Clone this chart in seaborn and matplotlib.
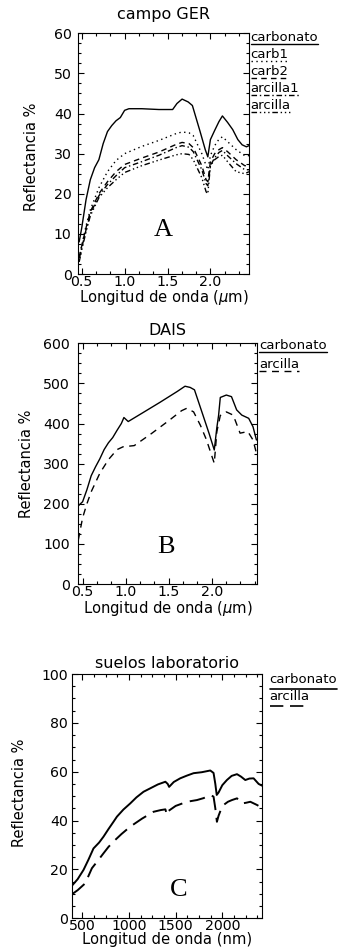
import matplotlib
matplotlib.use('Agg')
import pandas as pd
import matplotlib.pyplot as plt
import seaborn as sns
from matplotlib.ticker import MultipleLocator, AutoMinorLocator, FixedLocator

sns.set_style('ticks')
plt.rcParams['font.family'] = ['DejaVu Sans']
plt.rcParams['mathtext.fontset'] = 'dejavusans'
plt.rcParams['text.color'] = 'black'
plt.rcParams['axes.labelcolor'] = 'black'

# ---- A: campo GER (um) ----
ger_x_carb = [0.47, 0.50, 0.55, 0.60, 0.65, 0.70, 0.75, 0.80, 0.85, 0.90, 0.95, 1.00, 1.05, 1.20, 1.40,
              1.56, 1.61, 1.67, 1.74, 1.79, 1.88, 1.94, 1.97, 2.00, 2.05, 2.10, 2.14, 2.20, 2.26, 2.32,
              2.37, 2.42, 2.45]
ger_carbonato = [8.0, 11.5, 18.5, 23.5, 26.5, 28.5, 32.5, 35.5, 37.0, 38.2, 39.0, 40.8, 41.2, 41.2, 41.0,
                 41.0, 42.5, 43.6, 42.9, 42.0, 35.5, 31.0, 29.2, 33.5, 35.8, 38.0, 39.4, 37.8, 36.0, 33.5,
                 32.2, 31.7, 32.0]
ger_x = [0.47, 0.50, 0.55, 0.60, 0.70, 0.80, 0.90, 1.00, 1.20, 1.40, 1.60, 1.67, 1.75, 1.80, 1.90,
         1.95, 1.97, 2.00, 2.05, 2.10, 2.14, 2.20, 2.30, 2.40, 2.45]
ger_carb1 = [4.0, 7.0, 12.0, 16.0, 21.5, 25.5, 28.3, 30.0, 31.8, 33.3, 35.0, 35.4, 35.2, 34.5, 30.0,
             27.0, 26.0, 29.5, 32.0, 33.6, 34.2, 33.0, 31.0, 29.5, 29.5]
ger_carb2 = [4.0, 7.0, 11.5, 15.5, 20.0, 23.0, 25.5, 27.3, 28.9, 30.4, 32.3, 32.8, 32.5, 31.5, 27.0,
             23.5, 23.0, 28.0, 30.0, 31.0, 31.5, 30.5, 28.5, 27.0, 27.0]
ger_arcilla1 = [4.0, 6.5, 11.0, 15.0, 19.5, 22.3, 24.5, 26.5, 28.0, 29.6, 31.5, 32.0, 31.6, 30.5, 26.0,
                22.5, 22.0, 27.0, 29.0, 30.3, 30.8, 29.5, 27.5, 26.0, 26.0]
ger_arcilla = [3.0, 6.0, 10.5, 14.5, 19.0, 21.5, 23.5, 25.3, 27.0, 28.4, 29.7, 30.0, 29.8, 28.5, 24.0,
               20.5, 20.0, 27.0, 28.5, 29.3, 29.6, 28.0, 25.5, 25.0, 25.5]

# ---- B: DAIS (um) ----
dais_x_carb = [0.45, 0.50, 0.55, 0.60, 0.65, 0.70, 0.75, 0.80, 0.85, 0.90, 0.95, 0.98, 1.03, 1.20, 1.40,
               1.60, 1.69, 1.75, 1.80, 1.90, 1.97, 2.03, 2.06, 2.08, 2.10, 2.17, 2.23, 2.29, 2.35, 2.43,
               2.48, 2.52]
dais_carbonato = [195, 205, 235, 270, 292, 312, 335, 352, 365, 383, 400, 415, 405, 427, 453,
                  480, 493, 490, 484, 420, 375, 334, 390, 420, 465, 471, 467, 434, 421, 413,
                  392, 359]
dais_x_arc = [0.45, 0.50, 0.55, 0.60, 0.70, 0.80, 0.90, 0.97, 1.10, 1.30, 1.50, 1.65, 1.71, 1.79, 1.87,
              1.94, 2.00, 2.03, 2.06, 2.10, 2.17, 2.25, 2.33, 2.42, 2.48, 2.52]
dais_arcilla = [110, 165, 200, 230, 276, 310, 335, 342, 345, 375, 407, 432, 438, 429, 395,
                359, 320, 301, 380, 420, 429, 421, 376, 380, 359, 326]

# ---- C: suelos laboratorio (nm) ----
lab_x_carb = [395, 450, 513, 566, 620, 680, 727, 780, 834, 871, 940, 1013, 1080, 1156, 1228, 1310,
              1390, 1415, 1430, 1480, 1549, 1620, 1692, 1780, 1871, 1906, 1925, 1940, 1960, 2000,
              2049, 2100, 2157, 2200, 2246, 2290, 2335, 2389, 2425]
lab_carbonato = [13.6, 16.0, 19.8, 24.0, 28.6, 31.0, 33.4, 36.5, 39.5, 41.6, 44.5, 47.0, 49.5, 51.8,
                 53.2, 54.8, 55.9, 55.0, 53.8, 55.8, 57.3, 58.4, 59.4, 59.8, 60.5, 59.5, 55.0, 50.5,
                 51.5, 54.5, 56.6, 58.3, 59.0, 58.0, 56.6, 57.2, 57.3, 55.0, 54.3]
lab_x_arc = [395, 450, 531, 603, 665, 727, 780, 834, 920, 1013, 1140, 1263, 1340, 1390, 1407, 1425,
             1500, 1621, 1728, 1800, 1871, 1906, 1925, 1942, 1960, 2000, 2060, 2103, 2157, 2210,
             2255, 2300, 2371, 2425]
lab_arcilla = [10.0, 11.5, 14.3, 20.5, 23.5, 26.6, 29.2, 31.4, 34.5, 37.5, 40.8, 43.6, 44.3, 44.6,
               42.3, 44.0, 46.0, 47.7, 48.4, 49.2, 50.5, 49.8, 45.0, 39.5, 42.0, 46.0, 47.7, 48.4,
               49.1, 47.0, 47.3, 47.7, 46.4, 45.2]

um_ticks = [0.5, 1.0, 1.5, 2.0]
nm_ticks = [500, 1000, 1500, 2000]

W, H = 343, 949
fig = plt.figure(figsize=(W / 100, H / 100), dpi=100)


def px_axes(l, t, r, b):
    return fig.add_axes([l / W, 1 - b / H, (r - l) / W, (b - t) / H])


axA = px_axes(78.3, 33.3, 249, 274)
axB = px_axes(78.3, 343.3, 256.7, 584)
axC = px_axes(72.3, 674, 262, 918.3)

DOT = (0, (1, 2.5))
DASH = (0, (4, 3))
DASHDOT = (0, (4, 2, 1, 2))
DASH3DOT = (0, (4, 2, 1, 2, 1, 2, 1, 2))

# A
for xs, ys, ls in [(ger_x_carb, ger_carbonato, '-'), (ger_x, ger_carb1, DOT), (ger_x, ger_carb2, DASH),
                   (ger_x, ger_arcilla1, DASHDOT), (ger_x, ger_arcilla, DASH3DOT)]:
    sns.lineplot(x=xs, y=ys, ax=axA, color='black', linewidth=1.0, linestyle=ls, estimator=None)
# B
sns.lineplot(x=dais_x_carb, y=dais_carbonato, ax=axB, color='black', linewidth=1.0, estimator=None)
sns.lineplot(x=dais_x_arc, y=dais_arcilla, ax=axB, color='black', linewidth=1.0,
             linestyle=(0, (5, 4)), estimator=None)
# C
sns.lineplot(x=lab_x_carb, y=lab_carbonato, ax=axC, color='black', linewidth=1.4, estimator=None)
sns.lineplot(x=lab_x_arc, y=lab_arcilla, ax=axC, color='black', linewidth=1.4,
             linestyle=(0, (8, 4)), estimator=None)

setup = [
    (axA, (0.46, 2.45), (0, 60), um_ticks, 0.5 / 3, 10, 'campo GER', 10,
     'Longitud de onda ($\\mu$m)', 4.8, -0.272, 0.486, -0.058),
    (axB, (0.45, 2.523), (0, 600), um_ticks, 0.5 / 3, 100, 'DAIS', 6,
     'Longitud de onda ($\\mu$m)', 6.0, -0.289, 0.50, -0.064),
    (axC, (393, 2425), (0, 100), nm_ticks, 125, 20, 'suelos laboratorio', 4,
     'Longitud de onda (nm)', 3.0, -0.28, 0.515, -0.058),
]
for ax, xl, yl, xt, xminor, ymaj, title, tpad, xlab, ypad, ylx, yly, xly in setup:
    ax.set_xlim(*xl)
    ax.set_ylim(*yl)
    ax.xaxis.set_major_locator(FixedLocator(xt))
    ax.xaxis.set_minor_locator(MultipleLocator(xminor))
    ax.yaxis.set_major_locator(MultipleLocator(ymaj))
    ax.yaxis.set_minor_locator(AutoMinorLocator(4))
    if xt[0] < 1:
        ax.xaxis.set_major_formatter(plt.FuncFormatter(lambda v, p: f'{v:.1f}'))
    ax.tick_params(which='both', direction='in', top=True, right=True, color='black',
                   labelsize=10.2, labelcolor='black', width=0.8)
    ax.tick_params(which='major', length=4.5)
    ax.tick_params(which='minor', length=2.5)
    ax.tick_params(axis='x', pad=0.5)
    ax.tick_params(axis='y', pad=ypad)
    for s in ax.spines.values():
        s.set_visible(True)
        s.set_color('black')
        s.set_linewidth(0.8)
    ax.set_title(title, fontsize=11.5, pad=tpad)
    ax.set_ylabel('Reflectancia %', fontsize=10.5, va='center')
    ax.yaxis.set_label_coords(ylx, yly)
    ax.set_xlabel(xlab, fontsize=10.6)
    ax.xaxis.set_label_coords(0.5, xly)

axA.text(0.495, 0.183, 'A', transform=axA.transAxes, ha='center', va='center',
         family='Liberation Serif', fontsize=19)
axB.text(0.49, 0.154, 'B', transform=axB.transAxes, ha='center', va='center',
         family='Liberation Serif', fontsize=19)
axC.text(0.56, 0.116, 'C', transform=axC.transAxes, ha='center', va='center',
         family='Liberation Serif', fontsize=19)

# IDL-style legends: text with the line style drawn underneath
legends = [
    (axA, ['carbonato', 'carb1', 'carb2', 'arcilla1', 'arcilla'], ['-', DOT, DASH, DASHDOT, DASH3DOT],
     1.01, 0.967, 17, 3, 1.0),
    (axB, ['carbonato', 'arcilla'], ['-', (0, (5, 4))], 1.013, 0.976, 19, 3, 1.0),
    (axC, ['carbonato', 'arcilla'], ['-', (0, (8, 4))], 1.04, 0.963, 17, 6, 1.2),
]
texts = []
for ax, labs, styles, x0, y0, step, gap, lw in legends:
    hpx = ax.get_window_extent().height
    for i, (lab, ls) in enumerate(zip(labs, styles)):
        y = y0 - i * step / hpx
        t = ax.text(x0, y, lab, transform=ax.transAxes, fontsize=9.5, ha='left', va='baseline')
        texts.append((ax, t, y - gap / hpx, ls, lw))

fig.canvas.draw()
renderer = fig.canvas.get_renderer()
for ax, t, yl, ls, lw in texts:
    bb = t.get_window_extent(renderer).transformed(ax.transAxes.inverted())
    ax.plot([bb.x0, bb.x1], [yl, yl], transform=ax.transAxes, clip_on=False,
            color='black', linestyle=ls, linewidth=lw)

fig.savefig('out.png', dpi=100)
